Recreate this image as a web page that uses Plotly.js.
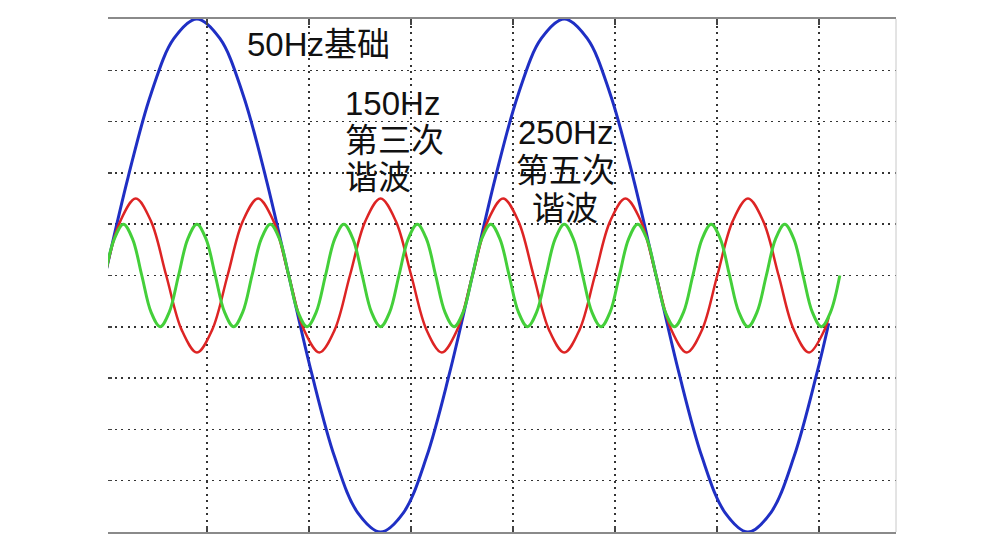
<!DOCTYPE html>
<html>
<head>
<meta charset="utf-8">
<script src="https://cdn.plot.ly/plotly-3.0.1.min.js"></script>
<style>html,body{margin:0;padding:0;background:#fff;}#chart{width:1000px;height:550px;}</style>
</head>
<body>
<div id="chart"></div>
<script>
// time in ms
const tBlue = [0,1.25,2.5,3.75,5,6.25,7.5,8.75,10,11.25,12.5,13.75,15,16.25,17.5,18.75,20,21.25,22.5,23.75,25,26.25,27.5,28.75,30,31.25,32.5,33.75,35,36.25,37.5,38.75,39.4];
const vBlue = [0,1.91,3.54,4.62,5,4.62,3.54,1.91,0,-1.91,-3.54,-4.62,-5,-4.62,-3.54,-1.91,0,1.91,3.54,4.62,5,4.62,3.54,1.91,0,-1.91,-3.54,-4.62,-5,-4.62,-3.54,-1.91,-0.93];

const tRed = [0,0.83,1.67,2.5,3.33,4.17,5,5.83,6.67,7.5,8.33,9.17,10,10.83,11.67,12.5,13.33,14.17,15,15.83,16.67,17.5,18.33,19.17,20,20.83,21.67,22.5,23.33,24.17,25,25.83,26.67,27.5,28.33,29.17,30,30.83,31.67,32.5,33.33,34.17,35,35.83,36.67,37.5,38.33,39.17,39.4];
const vRed = [0,1.06,1.5,1.06,0,-1.06,-1.5,-1.06,0,1.06,1.5,1.06,0,-1.06,-1.5,-1.06,0,1.06,1.5,1.06,0,-1.06,-1.5,-1.06,0,1.06,1.5,1.06,0,-1.06,-1.5,-1.06,0,1.06,1.5,1.06,0,-1.06,-1.5,-1.06,0,1.06,1.5,1.06,0,-1.06,-1.5,-1.06,-0.8];

const tGreen = [0,0.5,1,1.5,2,2.5,3,3.5,4,4.5,5,5.5,6,6.5,7,7.5,8,8.5,9,9.5,10,10.5,11,11.5,12,12.5,13,13.5,14,14.5,15,15.5,16,16.5,17,17.5,18,18.5,19,19.5,20,20.5,21,21.5,22,22.5,23,23.5,24,24.5,25,25.5,26,26.5,27,27.5,28,28.5,29,29.5,30,30.5,31,31.5,32,32.5,33,33.5,34,34.5,35,35.5,36,36.5,37,37.5,38,38.5,39,39.5,40];
const vGreen = [0,0.71,1,0.71,0,-0.71,-1,-0.71,0,0.71,1,0.71,0,-0.71,-1,-0.71,0,0.71,1,0.71,0,-0.71,-1,-0.71,0,0.71,1,0.71,0,-0.71,-1,-0.71,0,0.71,1,0.71,0,-0.71,-1,-0.71,0,0.71,1,0.71,0,-0.71,-1,-0.71,0,0.71,1,0.71,0,-0.71,-1,-0.71,0,0.71,1,0.71,0,-0.71,-1,-0.71,0,0.71,1,0.71,0,-0.71,-1,-0.71,0,0.71,1,0.71,0,-0.71,-1,-0.71,0];

const xGrid = [5.55,11.1,16.66,22.21,27.76,33.32,38.87];
const yGrid = [-4,-3,-2,-1,0,1,2,3,4];

const labels = [
  {text:'50Hz基础', x:7.62, y:4.51, align:'left'},
  {text:'150Hz', x:12.96, y:3.36, align:'left'},
  {text:'第三次', x:12.96, y:2.64, align:'left'},
  {text:'谐波', x:12.96, y:1.92, align:'left'},
  {text:'250Hz', x:25.04, y:2.78, align:'center'},
  {text:'第五次', x:25.04, y:2.04, align:'center'},
  {text:'谐波', x:25.04, y:1.30, align:'center'}
];

const traces = [
  {x:tBlue, y:vBlue, mode:'lines', line:{color:'#1f2fc4', width:3, shape:'spline', smoothing:1}, hoverinfo:'skip'},
  {x:tRed, y:vRed, mode:'lines', line:{color:'#dd2424', width:2.5, shape:'spline', smoothing:1}, hoverinfo:'skip'},
  {x:tGreen, y:vGreen, mode:'lines', line:{color:'#44cf3a', width:3, shape:'spline', smoothing:1}, hoverinfo:'skip'}
];

const font = {family:'Liberation Sans, Noto Sans CJK SC, sans-serif', size:33, color:'#111'};

const layout = {
  width:1000, height:550,
  margin:{l:108, r:104, t:19, b:18},
  paper_bgcolor:'#fff', plot_bgcolor:'#fff',
  showlegend:false,
  xaxis:{range:[0.16,43.06], tickvals:xGrid, showticklabels:false, zeroline:false,
         showgrid:true, gridcolor:'#333', gridwidth:1.5, griddash:'2px,4.5px',
         showline:true, linecolor:'#8a8a8a', linewidth:2, mirror:'ticks',
         ticks:'inside', ticklen:6, tickwidth:1.5, tickcolor:'#444'},
  yaxis:{range:[-5,5], tickvals:yGrid, showticklabels:false, zeroline:false,
         showgrid:true, gridcolor:'#333', gridwidth:1.5, griddash:'2px,4.5px',
         showline:false, ticks:'inside', ticklen:4, tickwidth:1.5, tickcolor:'#444'},
  shapes:[{type:'line', xref:'paper', yref:'paper', x0:1, x1:1, y0:0, y1:1, line:{color:'#c8c8c8', width:1}}],
  annotations: labels.map(l => ({text:l.text, x:l.x, y:l.y, xref:'x', yref:'y',
     xanchor: l.align==='left' ? 'left' : 'center', yanchor:'middle', showarrow:false, font:font, align:l.align}))
};

Plotly.newPlot('chart', traces, layout, {staticPlot:true, displayModeBar:false});
</script>
</body>
</html>
